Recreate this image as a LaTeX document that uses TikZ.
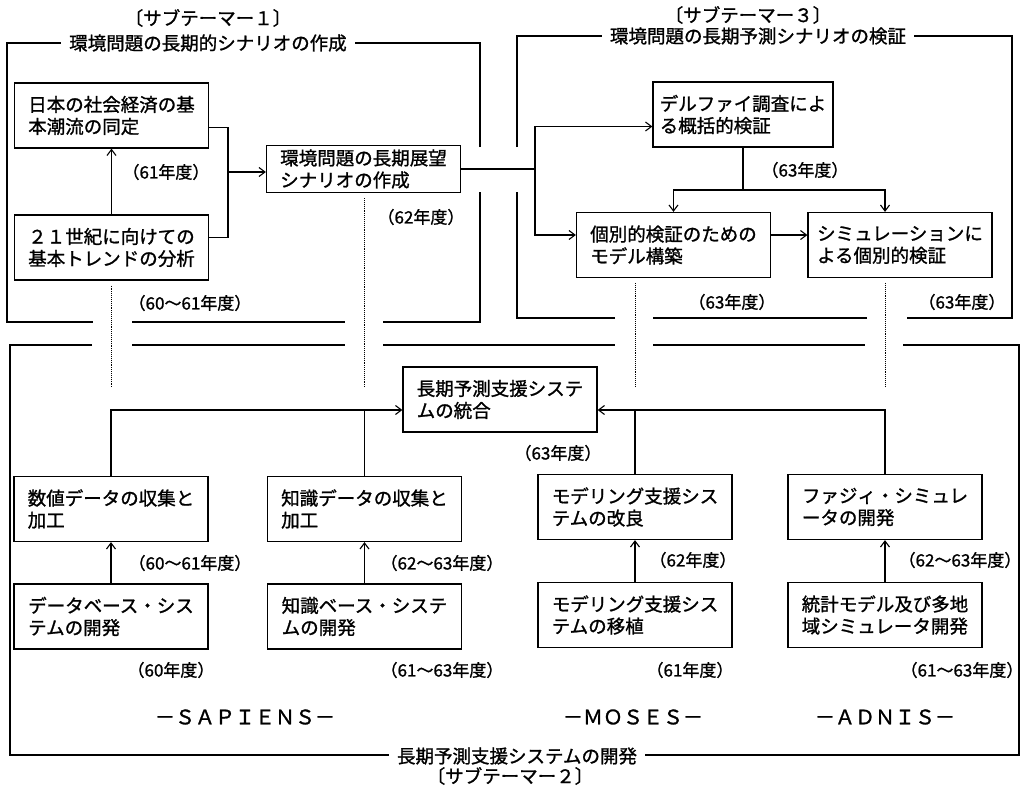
\documentclass[tikz,border=0pt]{standalone}
\usepackage{fontspec}
\newfontfamily\jpfont[FakeBold=1.2]{Noto Sans CJK JP}
\usetikzlibrary{arrows.meta}
\tikzset{
	box/.style={draw,line width=1.2pt,minimum width=194pt,minimum height=65pt,align=left,inner sep=0pt,font=\jpfont\fontsize{18.5}{22}\selectfont},
	bframe/.style={line width=2.4pt},
	link/.style={line width=1.1pt},
	arr/.style={line width=1.1pt,-{Straight Barb[length=6pt,width=9pt]}},
	dotline/.style={line width=0.9pt,densely dotted},
	yr/.style={font=\jpfont\fontsize{17}{20}\selectfont},
	ttl/.style={font=\jpfont\fontsize{18.5}{22}\selectfont,fill=white,inner xsep=8pt,inner ysep=1pt},
	plain/.style={font=\jpfont\fontsize{18.5}{22}\selectfont}
}
\begin{document}
\begin{tikzpicture}[x=1pt,y=-1pt]
	\useasboundingbox (0,0) rectangle (1023,788);
	% frames of the three sub-themes
	\draw[bframe] (480,147) |- (7,43) |- (93,322);
	\draw[bframe] (132,322) -- (345,322);
	\draw[bframe] (383,322) -| (480,192);
	\draw[bframe] (517,147) |- (1012,36) |- (907,318);
	\draw[bframe] (867,318) -- (653,318);
	\draw[bframe] (615,318) -| (517,192);
	\draw[bframe] (92,345) -| (10,755) -| (1019,345) -- (903,345);
	\draw[bframe] (132,345) -- (345,345);
	\draw[bframe] (383,345) -- (615,345);
	\draw[bframe] (653,345) -- (865,345);
	\node[plain] (s1) at (208,18) {〔サブテーマー１〕};
	\node[ttl] (t1) at (208,43) {環境問題の長期的シナリオの作成};
	\node[plain] (s3) at (748,15) {〔サブテーマー３〕};
	\node[ttl] (t3) at (758,36) {環境問題の長期予測シナリオの検証};
	\node[ttl] (t2) at (517,756) {長期予測支援システムの開発};
	\node[plain] (s2) at (510,776) {〔サブテーマー２〕};
	% boxes
	\node[box] (A) at (111.5,115.5) {日本の社会経済の基\\本潮流の同定};
	\node[box] (B) at (111.5,247.5) {２１世紀に向けての\\基本トレンドの分析};
	\node[box,minimum height=47pt] (C) at (363.5,169) {環境問題の長期展望\\シナリオの作成};
	\node[box,minimum width=180pt] (D) at (743,114.5) {デルファイ調査によ\\る概括的検証};
	\node[box] (E) at (673.5,245) {個別的検証のための\\モデル構築};
	\node[box,minimum width=184pt] (F) at (900,245) {シミュレーションに\\よる個別的検証};
	\node[box] (H) at (500,399.5) {長期予測支援システ\\ムの統合};
	\node[box] (I1) at (111,509) {数値データの収集と\\加工};
	\node[box] (I2) at (364.5,509) {知識データの収集と\\加工};
	\node[box] (J1) at (111,616.5) {データベース・シス\\テムの開発};
	\node[box] (J2) at (364.5,616.5) {知識ベース・システ\\ムの開発};
	\node[box] (K1) at (635,507) {モデリング支援シス\\テムの改良};
	\node[box] (K2) at (885,507) {ファジィ・シミュレ\\ータの開発};
	\node[box] (L1) at (635,615) {モデリング支援シス\\テムの移植};
	\node[box] (L2) at (885,615) {統計モデル及び多地\\域シミュレータ開発};
	% years
	\node[yr] (y1) at (166,172) {（61年度）};
	\node[yr] (y2) at (421,217) {（62年度）};
	\node[yr] (y3) at (190,303) {（60〜61年度）};
	\node[yr] (y4) at (805,170) {（63年度）};
	\node[yr] (y5) at (732,302) {（63年度）};
	\node[yr] (y6) at (962,302) {（63年度）};
	\node[yr] (y7) at (558,453) {（63年度）};
	\node[yr] (y8) at (190,563) {（60〜61年度）};
	\node[yr] (y9) at (442,563) {（62〜63年度）};
	\node[yr] (y10) at (693,560) {（62年度）};
	\node[yr] (y11) at (960,560) {（62〜63年度）};
	\node[yr] (y12) at (171,670) {（60年度）};
	\node[yr] (y13) at (442,670) {（61〜63年度）};
	\node[yr] (y14) at (690,670) {（61年度）};
	\node[yr] (y15) at (962,670) {（61〜63年度）};
	\node[plain,font=\jpfont\fontsize{20}{22}\selectfont] (sap) at (245,717) {－ＳＡＰＩＥＮＳ－};
	\node[plain,font=\jpfont\fontsize{20}{22}\selectfont] (mos) at (633,717) {－ＭＯＳＥＳ－};
	\node[plain,font=\jpfont\fontsize{20}{22}\selectfont] (adn) at (885,717) {－ＡＤＮＩＳ－};
	% connectors
	\coordinate (j1) at (228,172);
	\coordinate (j2) at (535,169);
	\coordinate (j3) at (743,190);
	\coordinate (dend) at (0,387);
	\coordinate (hin) at ([yshift=-10.5pt]H.west);
	\draw[arr] (B) -- (A);
	\draw[link] ([yshift=-12pt]A.east) -| (j1);
	\draw[link] ([yshift=10pt]B.east) -| (j1);
	\draw[arr] (j1) -- (C.west |- j1);
	\draw[link] (C.east) -- (j2);
	\draw[arr] (j2) |- ([yshift=-12pt]D.west);
	\draw[arr] (j2) |- ([yshift=10pt]E.west);
	\draw[link] (D.south) -- (j3);
	\draw[arr] (j3) -| (E.north);
	\draw[arr] (j3) -| ([xshift=-15pt]F.north);
	\draw[arr] ([yshift=10pt]E.east) -- ([yshift=10pt]F.west);
	\foreach \a/\b in {B/I1,C/I2,E/K1,F/K2}
		\draw[dotline] ([yshift=-5pt]\a.south -| \b) -- (\b |- dend);
	\draw[arr] (I1.north) |- (hin);
	\draw[link] (I2.north) -- (I2 |- hin);
	\draw[arr] (K2.north) |- ([yshift=-10.5pt]H.east);
	\draw[link] (K1.north) -- (K1 |- hin);
	\foreach \a/\b in {J1/I1,J2/I2,L1/K1,L2/K2}
		\draw[arr] (\a) -- (\b);
\end{tikzpicture}
\end{document}
